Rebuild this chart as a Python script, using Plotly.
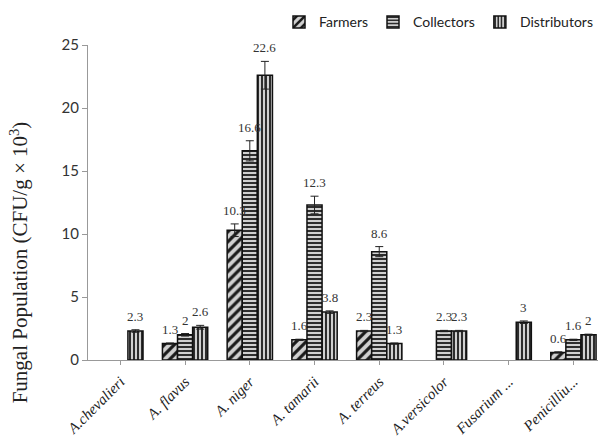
import plotly.graph_objects as go

# Fungal counts by sampling point (CFU/g x 10^3)
species = ["A.chevalieri", "A. flavus", "A. niger", "A. tamarii", "A. terreus",
           "A.versicolor", "Fusarium ...", "Penicilliu..."]
farmers = [None, 1.3, 10.3, 1.6, 2.3, None, None, 0.6]
collectors = [None, 2.0, 16.6, 12.3, 8.6, 2.3, None, 1.6]
distributors = [2.3, 2.6, 22.6, 3.8, 1.3, 2.3, 3.0, 2.0]

farmers_err = [None, 0.05, 0.5, 0.05, 0.05, None, None, 0.05]
collectors_err = [None, 0.1, 0.8, 0.7, 0.4, 0.05, None, 0.05]
distributors_err = [0.1, 0.15, 1.1, 0.1, 0.05, 0.05, 0.1, 0.05]

series = [
    ("Farmers", farmers, farmers_err, "/", 7, 0.45),
    ("Collectors", collectors, collectors_err, "-", 4, 0.45),
    ("Distributors", distributors, distributors_err, "|", 4, 0.45),
]

BARGAP = 0.3
n_series = len(series)
bar_w = (1 - BARGAP) / n_series

fig = go.Figure()
annotations = []
xs = list(range(len(species)))

for k, (name, vals, errs, shape, size, sol) in enumerate(series):
    fig.add_trace(go.Bar(
        name=name, x=xs, y=vals,
        marker=dict(
            color="white",
            line=dict(color="#111111", width=1.5),
            pattern=dict(shape=shape, fgcolor="#1a1a1a", bgcolor="#d0d0d0",
                         size=size, solidity=sol, fillmode="replace"),
        ),
        error_y=dict(type="data", array=[e if e is not None else 0 for e in errs],
                     color="#222222", thickness=1, width=4, visible=True),
    ))
    offset = (k - (n_series - 1) / 2) * bar_w
    for i, (v, e) in enumerate(zip(vals, errs)):
        if v is None:
            continue
        annotations.append(dict(
            x=i + offset, y=v + (e or 0), xref="x", yref="y",
            text=f"{v:g}", showarrow=False, yanchor="bottom", yshift=4,
            font=dict(family="Liberation Serif", size=13, color="#333333"),
        ))

annotations.append(dict(
    x=0, y=0.31, xref="paper", yref="paper", xshift=-69,
    text="Fungal Population (CFU/g × 10<sup>3</sup>)", textangle=-90,
    showarrow=False, xanchor="center", yanchor="middle",
    font=dict(family="Liberation Serif", size=21, color="#222222"),
))

fig.update_layout(
    width=598, height=436,
    margin=dict(l=88, r=0, t=45, b=76),
    paper_bgcolor="white", plot_bgcolor="white",
    barmode="group", bargap=BARGAP, bargroupgap=0,
    annotations=annotations,
    legend=dict(orientation="h", x=1.0, xanchor="right", y=1.072, yanchor="middle",
                font=dict(family="Lato", size=14, color="#222222"),
                itemwidth=30, tracegroupgap=0, traceorder="normal"),
    xaxis=dict(
        tickmode="array", tickvals=xs,
        ticktext=[f"<i>{s}</i>" for s in species],
        tickangle=-45, range=[-0.5, 7.38], automargin=False,
        showline=True, linecolor="#999999", linewidth=1,
        ticks="outside", tickson="boundaries", ticklen=4, tickcolor="#999999",
        ticklabelstandoff=2, ticklabeloverflow="allow",
        tickfont=dict(family="Liberation Serif", size=15, color="#222222"),
        showgrid=False, zeroline=False,
    ),
    yaxis=dict(
        range=[0, 25], dtick=5, showline=True, linecolor="#999999", linewidth=1,
        ticks="outside", ticklen=5, tickcolor="#999999", automargin=False,
        tickfont=dict(family="Lato", size=15, color="#333333"),
        showgrid=False, zeroline=False,
    ),
    showlegend=True,
)

fig.write_html("out.html")
